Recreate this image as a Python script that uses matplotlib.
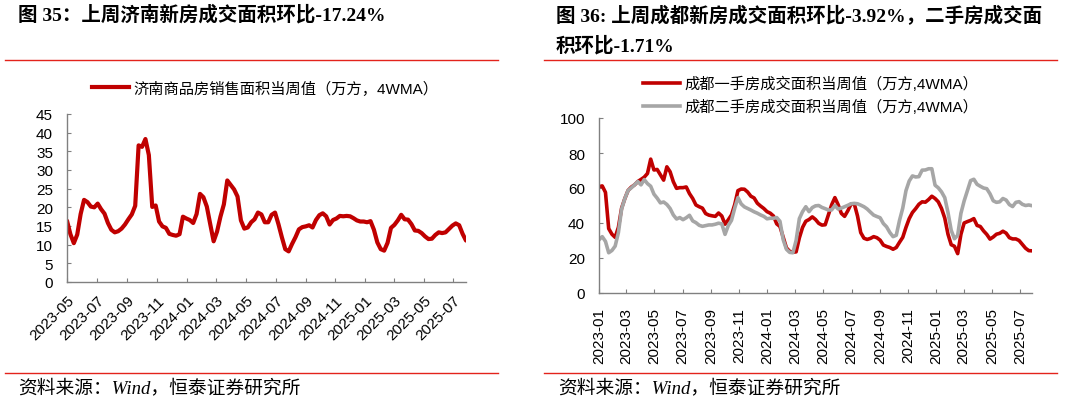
import numpy as np
import pandas as pd
import matplotlib
matplotlib.use('Agg')
import matplotlib.pyplot as plt
import matplotlib.dates as mdates
from matplotlib.lines import Line2D

# 济南商品房销售面积当周值（万方，4WMA），周度，2023-04-30 起
jinan_start = '2023-04-30'
jinan_new = [16.4, 12.8, 10.4, 12.7, 18.2, 22.0, 21.4, 20.2, 20.0, 21.0,
             19.5, 18.3, 15.8, 14.0, 13.3, 13.6, 14.3, 15.4, 16.8, 18.1,
             20.4, 36.6, 36.2, 38.3, 34.0, 20.1, 20.5, 16.2, 14.9, 14.5,
             12.9, 12.6, 12.4, 12.8, 17.5, 17.0, 16.6, 15.8, 18.2, 23.6,
             22.7, 20.2, 15.5, 10.9, 13.5, 17.5, 20.8, 27.2, 26.0, 24.8,
             22.9, 16.5, 14.3, 14.6, 16.0, 16.8, 18.6, 18.1, 16.0, 16.0,
             18.0, 18.6, 15.5, 12.0, 8.8, 8.2, 10.2, 12.0, 14.1, 14.7,
             14.9, 15.2, 14.6, 16.6, 17.9, 18.4, 17.6, 15.4, 16.6, 17.0,
             17.7, 17.6, 17.7, 17.6, 17.1, 16.5, 16.2, 16.2, 16.0, 16.3,
             14.0, 10.6, 8.8, 8.4, 10.5, 14.5, 15.3, 16.5, 18.0, 16.8,
             16.7, 15.5, 13.8, 13.7, 13.1, 12.2, 11.5, 11.6, 12.6, 13.3,
             13.1, 13.3, 14.2, 15.1, 15.7, 15.2, 12.9, 11.1]

# 成都一手 / 二手房成交面积当周值（万方,4WMA），周度，2023-01-01 起
chengdu_start = '2023-01-01'
chengdu_new = [60.7, 61.2, 57.5, 36.8, 33.6, 31.8, 37.5, 48.5, 54.0, 58.6,
               60.5, 61.8, 63.7, 64.9, 66.2, 68.3, 76.5, 70.3, 70.6, 67.5,
               64.5, 72.1, 69.3, 63.6, 59.8, 60.2, 60.2, 60.6, 56.8, 54.0,
               50.3, 49.3, 48.5, 45.4, 44.5, 44.1, 43.8, 45.7, 44.0, 39.3,
               41.8, 44.6, 50.5, 58.5, 59.4, 59.3, 57.7, 55.3, 54.3, 51.3,
               49.7, 48.3, 46.5, 45.6, 44.0, 39.5, 38.0, 32.0, 25.8, 23.8,
               23.3, 23.5, 31.5, 37.5, 41.0, 42.0, 43.5, 42.0, 39.8, 38.8,
               39.0, 44.8, 50.4, 54.5, 50.5, 45.5, 43.8, 47.0, 50.8, 51.0,
               44.0, 34.5, 31.3, 30.6, 31.2, 32.2, 31.6, 30.2, 27.4, 26.6,
               26.0, 25.0, 26.0, 29.0, 31.8, 37.5, 42.5, 46.0, 48.2, 50.7,
               52.1, 51.9, 53.4, 55.3, 54.0, 52.1, 48.3, 42.8, 33.6, 27.6,
               26.7, 22.5, 33.5, 40.0, 40.8, 41.5, 42.5, 38.6, 38.0, 35.5,
               33.5, 30.8, 32.0, 33.6, 34.1, 35.3, 34.2, 31.6, 30.9, 30.9,
               30.0, 27.8, 25.6, 24.2, 24.1]
chengdu_second = [30.4, 32.2, 29.5, 23.0, 24.3, 26.8, 34.5, 48.0, 54.0, 58.6,
                  60.1, 61.8, 63.7, 61.8, 64.8, 62.5, 61.0, 56.5, 54.2, 51.5,
                  52.0, 50.6, 48.3, 44.6, 42.3, 43.1, 41.9, 43.0, 44.4, 41.2,
                  40.2, 38.7, 38.1, 38.5, 38.9, 38.9, 39.3, 39.9, 39.5, 33.5,
                  38.5, 41.5, 48.5, 54.5, 50.9, 49.2, 48.3, 47.4, 46.4, 45.6,
                  44.6, 43.8, 42.4, 42.7, 42.7, 43.1, 41.0, 30.5, 25.0, 23.2,
                  23.0, 30.0, 42.5, 46.5, 49.3, 46.5, 48.8, 49.8, 50.0, 48.9,
                  48.2, 47.4, 47.5, 50.0, 48.0, 48.5, 49.3, 50.1, 51.0, 51.2,
                  51.0, 50.2, 49.3, 48.0, 46.2, 44.5, 43.7, 43.0, 39.7, 37.8,
                  34.6, 32.2, 33.0, 41.5, 48.5, 58.5, 64.0, 66.9, 66.3, 66.5,
                  70.2, 70.3, 71.0, 71.0, 61.6, 60.1, 57.8, 54.5, 46.0, 35.8,
                  31.0, 33.0, 45.5, 52.6, 58.5, 64.2, 65.0, 62.1, 61.0, 60.0,
                  59.6, 56.7, 52.7, 51.8, 52.1, 54.0, 53.1, 50.5, 49.4, 51.8,
                  52.2, 50.7, 50.0, 50.3, 49.9]

title_left = '图 35：上周济南新房成交面积环比-17.24%'
title_right = '图 36: 上周成都新房成交面积环比-3.92%，二手房成交面\n积环比-1.71%'
label_jinan = '济南商品房销售面积当周值（万方，4WMA）'
label_cd_new = '成都一手房成交面积当周值（万方,4WMA）'
label_cd_second = '成都二手房成交面积当周值（万方,4WMA）'
source = '资料来源：Wind，恒泰证券研究所'

jinan_dates = pd.date_range(jinan_start, periods=len(jinan_new), freq='7D')
cd_dates = pd.date_range(chengdu_start, periods=len(chengdu_new), freq='7D')

RED = '#C00000'
GREY = '#A6A6A6'
RULE = '#E3231B'
SPINE = '#808080'
title_font = ['Liberation Serif', 'Noto Sans CJK SC']
text_font = ['Liberation Sans', 'Noto Sans CJK SC']
src_font = ['Liberation Serif', 'Noto Sans CJK SC']

plt.rcParams['font.family'] = text_font

W, H = 1074, 406
fig = plt.figure(figsize=(W / 100, H / 100), dpi=100)


def px(x0, y0, x1, y1):
    return [x0 / W, 1 - y1 / H, (x1 - x0) / W, (y1 - y0) / H]


def style(ax, xpad):
    for s in ('top', 'right'):
        ax.spines[s].set_visible(False)
    for s in ('left', 'bottom'):
        ax.spines[s].set_color(SPINE)
        ax.spines[s].set_linewidth(1.0)
    ax.tick_params(direction='in', length=3, color=SPINE, labelsize=11,
                   labelcolor='black')
    ax.tick_params(axis='y', pad=10)
    ax.tick_params(axis='x', pad=xpad)
    ax.xaxis.set_major_locator(mdates.MonthLocator(bymonth=[1, 3, 5, 7, 9, 11]))
    ax.xaxis.set_major_formatter(mdates.DateFormatter('%Y-%m'))


# left panel
ax0 = fig.add_axes(px(67, 115, 466, 283))
ax0.plot(jinan_dates, jinan_new, color=RED, linewidth=3.0, solid_capstyle='round')
ax0.set_ylim(0, 45)
ax0.set_yticks(np.arange(0, 46, 5))
ax0.set_xlim(jinan_dates[0], jinan_dates[-1])
style(ax0, 8)
for lab in ax0.get_xticklabels():
    lab.set_rotation(45)
    lab.set_ha('right')
    lab.set_rotation_mode('anchor')

# right panel
ax1 = fig.add_axes(px(599, 119, 1032, 294))
ax1.plot(cd_dates, chengdu_new, color=RED, linewidth=2.6)
ax1.plot(cd_dates, chengdu_second, color=GREY, linewidth=2.6)
ax1.set_ylim(0, 100)
ax1.set_yticks(np.arange(0, 101, 20))
ax1.set_xlim(cd_dates[0], cd_dates[-1])
style(ax1, 10)
for lab in ax1.get_xticklabels():
    lab.set_rotation(90)
    lab.set_ha('center')
    lab.set_va('top')

# titles
fig.text(18 / W, 1 - 15 / H, title_left, family=title_font, weight='bold',
         fontsize=14, va='center', ha='left')
fig.text(556 / W, 1 - 31 / H, title_right, family=title_font, weight='bold',
         fontsize=14, va='center', ha='left', linespacing=1.6)

# red rules
for y in (61, 374):
    fig.add_artist(Line2D([5 / W, 498 / W], [1 - y / H] * 2, color=RULE, linewidth=1.0))
    fig.add_artist(Line2D([544 / W, 1057 / W], [1 - y / H] * 2, color=RULE, linewidth=1.0))

# legends
h0 = Line2D([], [], color=RED, linewidth=3.0)
fig.legend([h0], [label_jinan], loc='center left', bbox_to_anchor=(92 / W, 1 - 89 / H),
           frameon=False, fontsize=11, handlelength=2.4, handletextpad=0.3,
           borderpad=0, borderaxespad=0)
h1 = Line2D([], [], color=RED, linewidth=2.6)
h2 = Line2D([], [], color=GREY, linewidth=2.6)
fig.legend([h1, h2], [label_cd_new, label_cd_second], loc='center left',
           bbox_to_anchor=(643 / W, 1 - 96 / H), frameon=False, fontsize=11,
           handlelength=2.4, handletextpad=0.3, borderpad=0, borderaxespad=0,
           labelspacing=0.5)

# source
fig.text(18 / W, 1 - 388 / H, source, family=src_font, style='italic',
         fontsize=13.5, va='center', ha='left')
fig.text(558 / W, 1 - 388 / H, source, family=src_font, style='italic',
         fontsize=13.5, va='center', ha='left')

fig.savefig('out.png', dpi=100)
